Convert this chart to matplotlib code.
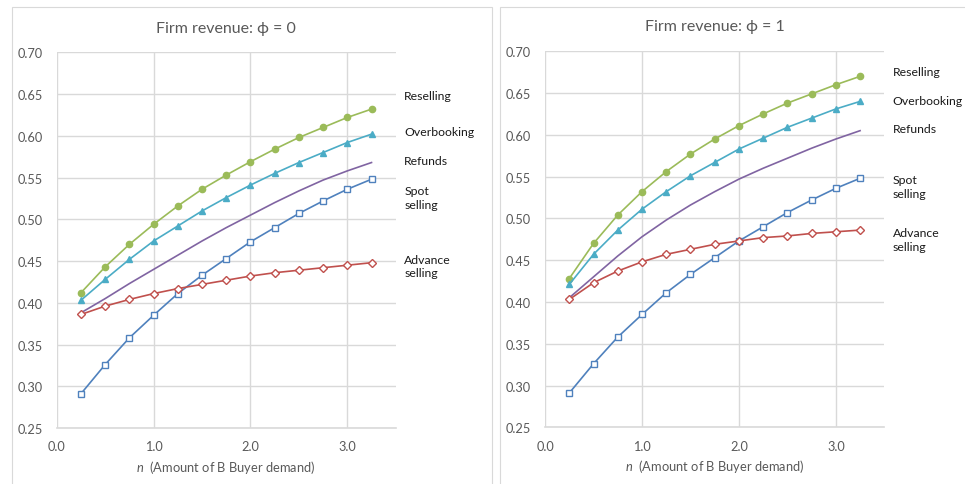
import numpy as np
import matplotlib
matplotlib.use('Agg')
import matplotlib.pyplot as plt
from matplotlib.patches import Rectangle

plt.rcParams['font.family'] = ['Lato', 'DejaVu Sans']
plt.rcParams['mathtext.fontset'] = 'custom'
plt.rcParams['mathtext.it'] = 'Lato:italic'
plt.rcParams['mathtext.rm'] = 'Lato'

# ---- data ----------------------------------------------------------------
n_values = [0.25, 0.5, 0.75, 1.0, 1.25, 1.5, 1.75, 2.0, 2.25, 2.5, 2.75, 3.0, 3.25]

# phi = 0
reselling_0   = [0.412, 0.443, 0.470, 0.494, 0.516, 0.536, 0.553, 0.569, 0.584, 0.598, 0.610, 0.622, 0.632]
overbooking_0 = [0.403, 0.428, 0.452, 0.474, 0.492, 0.510, 0.526, 0.541, 0.555, 0.568, 0.580, 0.592, 0.602]
refunds_0     = [0.388, 0.405, 0.423, 0.440, 0.457, 0.474, 0.490, 0.505, 0.520, 0.534, 0.547, 0.558, 0.568]
spot_0        = [0.291, 0.326, 0.358, 0.385, 0.411, 0.433, 0.453, 0.473, 0.490, 0.507, 0.522, 0.536, 0.548]
advance_0     = [0.386, 0.396, 0.404, 0.411, 0.417, 0.422, 0.427, 0.432, 0.436, 0.439, 0.442, 0.445, 0.448]

# phi = 1
reselling_1   = [0.428, 0.470, 0.504, 0.532, 0.556, 0.577, 0.595, 0.611, 0.625, 0.638, 0.649, 0.660, 0.670]
overbooking_1 = [0.421, 0.457, 0.486, 0.511, 0.532, 0.551, 0.567, 0.583, 0.596, 0.609, 0.620, 0.631, 0.640]
refunds_1     = [0.405, 0.430, 0.455, 0.478, 0.498, 0.516, 0.532, 0.547, 0.560, 0.572, 0.584, 0.595, 0.605]
spot_1        = [0.291, 0.326, 0.358, 0.385, 0.411, 0.433, 0.453, 0.473, 0.490, 0.507, 0.522, 0.536, 0.548]
advance_1     = [0.403, 0.423, 0.437, 0.448, 0.457, 0.463, 0.469, 0.473, 0.477, 0.479, 0.482, 0.484, 0.486]

x_ticks = [0.0, 1.0, 2.0, 3.0]
y_ticks = [0.25, 0.30, 0.35, 0.40, 0.45, 0.50, 0.55, 0.60, 0.65, 0.70]
titles  = ['Firm revenue: ϕ = 0', 'Firm revenue: ϕ = 1']

GREEN  = '#9BBB59'
CYAN   = '#4BACC6'
PURPLE = '#8064A2'
BLUE   = '#4F81BD'
RED    = '#C0504D'
GRID   = '#D9D9D9'
TICK   = '#595959'

# label positions (data coords, per panel)
labels_0 = [('Reselling', 0.648), ('Overbooking', 0.605), ('Refunds', 0.571),
            ('Spot\nselling', 0.526), ('Advance\nselling', 0.444)]
labels_1 = [('Reselling', 0.676), ('Overbooking', 0.641), ('Refunds', 0.608),
            ('Spot\nselling', 0.538), ('Advance\nselling', 0.475)]


def draw_panel(ax, res, ovb, ref, spot, adv, title, labels):
    lw = 1.2
    ax.plot(n_values, res, color=GREEN, lw=lw, marker='o', ms=4.5, zorder=5)
    ax.plot(n_values, ovb, color=CYAN, lw=lw, marker='^', ms=5, zorder=5)
    ax.plot(n_values, ref, color=PURPLE, lw=lw, zorder=4)
    ax.plot(n_values, spot, color=BLUE, lw=lw, marker='s', ms=5,
            mfc='white', mec=BLUE, mew=1.0, zorder=4)
    ax.plot(n_values, adv, color=RED, lw=lw, marker='D', ms=4,
            mfc='white', mec=RED, mew=1.0, zorder=4)

    ax.set_xlim(0, 3.5)
    ax.set_ylim(0.25, 0.70)
    ax.set_xticks(x_ticks)
    ax.set_xticklabels([f'{v:.1f}' for v in x_ticks])
    ax.set_yticks(y_ticks)
    ax.set_yticklabels([f'{v:.2f}' for v in y_ticks])
    ax.tick_params(length=0, labelsize=9.2, labelcolor=TICK)
    ax.tick_params(axis='y', pad=10)
    ax.tick_params(axis='x', pad=9)
    ax.grid(True, color=GRID, lw=1.0)
    ax.set_axisbelow(True)
    for s in ['top', 'right', 'left']:
        ax.spines[s].set_visible(False)
    ax.spines['bottom'].set_color(GRID)
    ax.spines['bottom'].set_linewidth(1.2)

    ax.set_title(title, fontsize=11.5, color=TICK, pad=15)
    ax.set_xlabel(r'$n$  (Amount of B Buyer demand)', fontsize=9.3,
                  color=TICK, labelpad=4)

    for text, y in labels:
        ax.text(1.025, (y - 0.25) / 0.45, text, transform=ax.transAxes,
                fontsize=8.8, color='#1a1a1a', va='center', ha='left',
                linespacing=1.3, clip_on=False)


fig = plt.figure(figsize=(9.65, 4.85), dpi=100)
ax0 = fig.add_axes([0.0588, 0.1155, 0.3513, 0.7745])
ax1 = fig.add_axes([0.5648, 0.1169, 0.3516, 0.7753])

draw_panel(ax0, reselling_0, overbooking_0, refunds_0, spot_0, advance_0,
           titles[0], labels_0)
draw_panel(ax1, reselling_1, overbooking_1, refunds_1, spot_1, advance_1,
           titles[1], labels_1)

# chart frames
fig.patches.append(Rectangle((12 / 965, -0.01), 480 / 965, 1 - 8 / 485 + 0.01,
                             transform=fig.transFigure, fill=False,
                             ec='#D9D9D9', lw=0.8))
fig.patches.append(Rectangle((500 / 965, -0.01), 480 / 965, 1 - 8 / 485 + 0.01,
                             transform=fig.transFigure, fill=False,
                             ec='#D9D9D9', lw=0.8))

fig.savefig('out.png', dpi=100)
